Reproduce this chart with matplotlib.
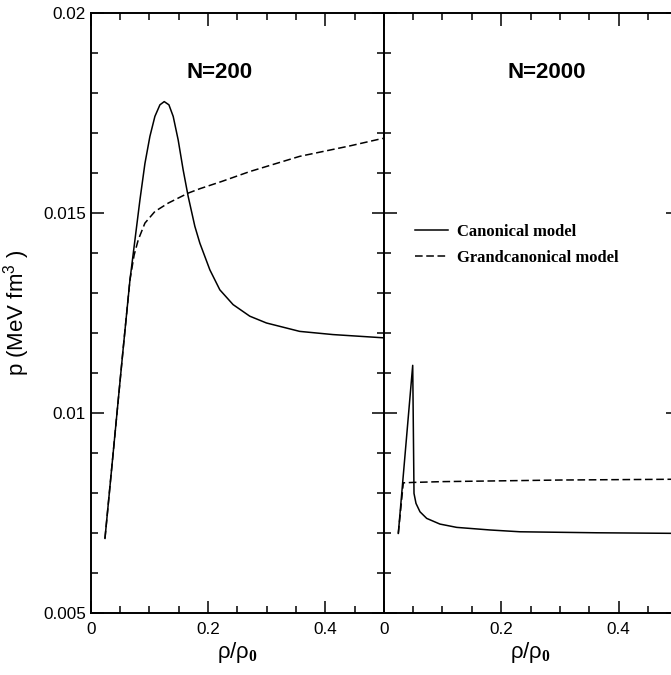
import numpy as np
import matplotlib
matplotlib.use("Agg")
import matplotlib.pyplot as plt
from matplotlib.ticker import MultipleLocator, FixedLocator

# N=200 panel : canonical (solid) and grandcanonical (dashed)
x200_can = [0.0243, 0.055, 0.0669, 0.0754, 0.0839, 0.0924, 0.1009, 0.1094, 0.118, 0.1253,
            0.1333, 0.1406, 0.1491, 0.1576, 0.1661, 0.1775, 0.186, 0.2031, 0.2201, 0.2427,
            0.2712, 0.2996, 0.3562, 0.413, 0.498]
p200_can = [0.00686, 0.01156, 0.01333, 0.01433, 0.01533, 0.01624, 0.01692, 0.01742, 0.01771, 0.01779,
            0.01771, 0.01742, 0.01683, 0.01608, 0.01542, 0.01467, 0.01425, 0.01358, 0.01308, 0.01271,
            0.01242, 0.01225, 0.01204, 0.01196, 0.01188]
x200_gc = [0.0243, 0.055, 0.0669, 0.0740, 0.081, 0.0924, 0.1094, 0.1321, 0.1661, 0.186,
           0.223, 0.2712, 0.3562, 0.4413, 0.498]
p200_gc = [0.00686, 0.01156, 0.01333, 0.01395, 0.01433, 0.01475, 0.01504, 0.01525, 0.0155, 0.01561,
           0.01579, 0.01604, 0.01642, 0.01668, 0.01687]

# N=2000 panel
x2000_can = [0.0249, 0.0494, 0.0516, 0.0550, 0.0618, 0.0732, 0.0957, 0.1243, 0.181, 0.232,
             0.3626, 0.5]
p2000_can = [0.006985, 0.01119, 0.007985, 0.007735, 0.007525, 0.00736, 0.007218, 0.007135, 0.00707, 0.007025,
             0.0070, 0.006985]
x2000_gc = [0.0249, 0.0334, 0.05, 0.1, 0.2, 0.3, 0.4, 0.5]
p2000_gc = [0.006985, 0.00825, 0.00826, 0.00828, 0.0083, 0.00832, 0.00833, 0.00834]

panel_titles = ["N=200", "N=2000"]
legend_labels = ["Canonical model", "Grandcanonical model"]
xtick_vals = [0, 0.2, 0.4]
xtick_text = ["0", "0.2", "0.4"]
ytick_vals = [0.005, 0.01, 0.015, 0.02]
ytick_text = ["0.005", "0.01", "0.015", "0.02"]

plt.rcParams['font.family'] = ['Liberation Sans', 'DejaVu Sans']
plt.rcParams['mathtext.fontset'] = 'custom'
plt.rcParams['mathtext.rm'] = 'Liberation Sans'
plt.rcParams['mathtext.it'] = 'Liberation Sans'
plt.rcParams['mathtext.bf'] = 'Liberation Serif:bold'
plt.rcParams['lines.scale_dashes'] = False

fig = plt.figure(figsize=(6.71, 6.75), dpi=100)
ax1 = fig.add_axes([0.1352, 0.0923, 0.4371, 0.888])
ax2 = fig.add_axes([0.5718, 0.0923, 0.4379, 0.888])

lw = 1.1
dash = (5.5, 2.6)
ax1.plot(x200_can, p200_can, color='black', lw=lw)
ax1.plot(x200_gc, p200_gc, color='black', lw=lw, dashes=dash)
ax2.plot(x2000_can, p2000_can, color='black', lw=lw, label=legend_labels[0])
ax2.plot(x2000_gc, p2000_gc, color='black', lw=lw, dashes=dash, label=legend_labels[1])

for ax, title, tx in [(ax1, panel_titles[0], 0.219), (ax2, panel_titles[1], 0.277)]:
    ax.set_xlim(0, 0.5)
    ax.set_ylim(0.005, 0.02)
    ax.xaxis.set_major_locator(FixedLocator(xtick_vals))
    ax.set_xticklabels(xtick_text)
    ax.xaxis.set_minor_locator(MultipleLocator(0.05))
    ax.yaxis.set_major_locator(FixedLocator(ytick_vals))
    ax.yaxis.set_minor_locator(MultipleLocator(0.001))
    ax.tick_params(which='both', direction='in', top=True, right=True, width=1.1)
    ax.tick_params(which='major', length=9, labelsize=12.3)
    ax.tick_params(which='minor', length=4.8)
    ax.tick_params(axis='x', pad=7)
    ax.tick_params(axis='y', pad=3.5)
    for s in ax.spines.values():
        s.set_linewidth(1.4)
    ax.text(tx, 0.01852, title, ha='center', va='center', fontsize=16, fontweight='bold')
    ax.set_xlabel(r"ρ/ρ$_{\mathbf{0}}$", fontsize=16, labelpad=2)

ax1.set_yticklabels(ytick_text)
ax2.tick_params(axis='y', labelleft=False)
ax1.set_ylabel(r"p (MeV fm$^{3}$ )", fontsize=16, labelpad=8)

ax2.legend(loc='upper left', bbox_to_anchor=(0.107, 0.648), frameon=False,
           prop={'family': 'Liberation Serif', 'weight': 'bold', 'size': 12},
           handlelength=2.0, handletextpad=0.5, labelspacing=0.6,
           borderpad=0, borderaxespad=0)

fig.savefig("out.png", dpi=100)
